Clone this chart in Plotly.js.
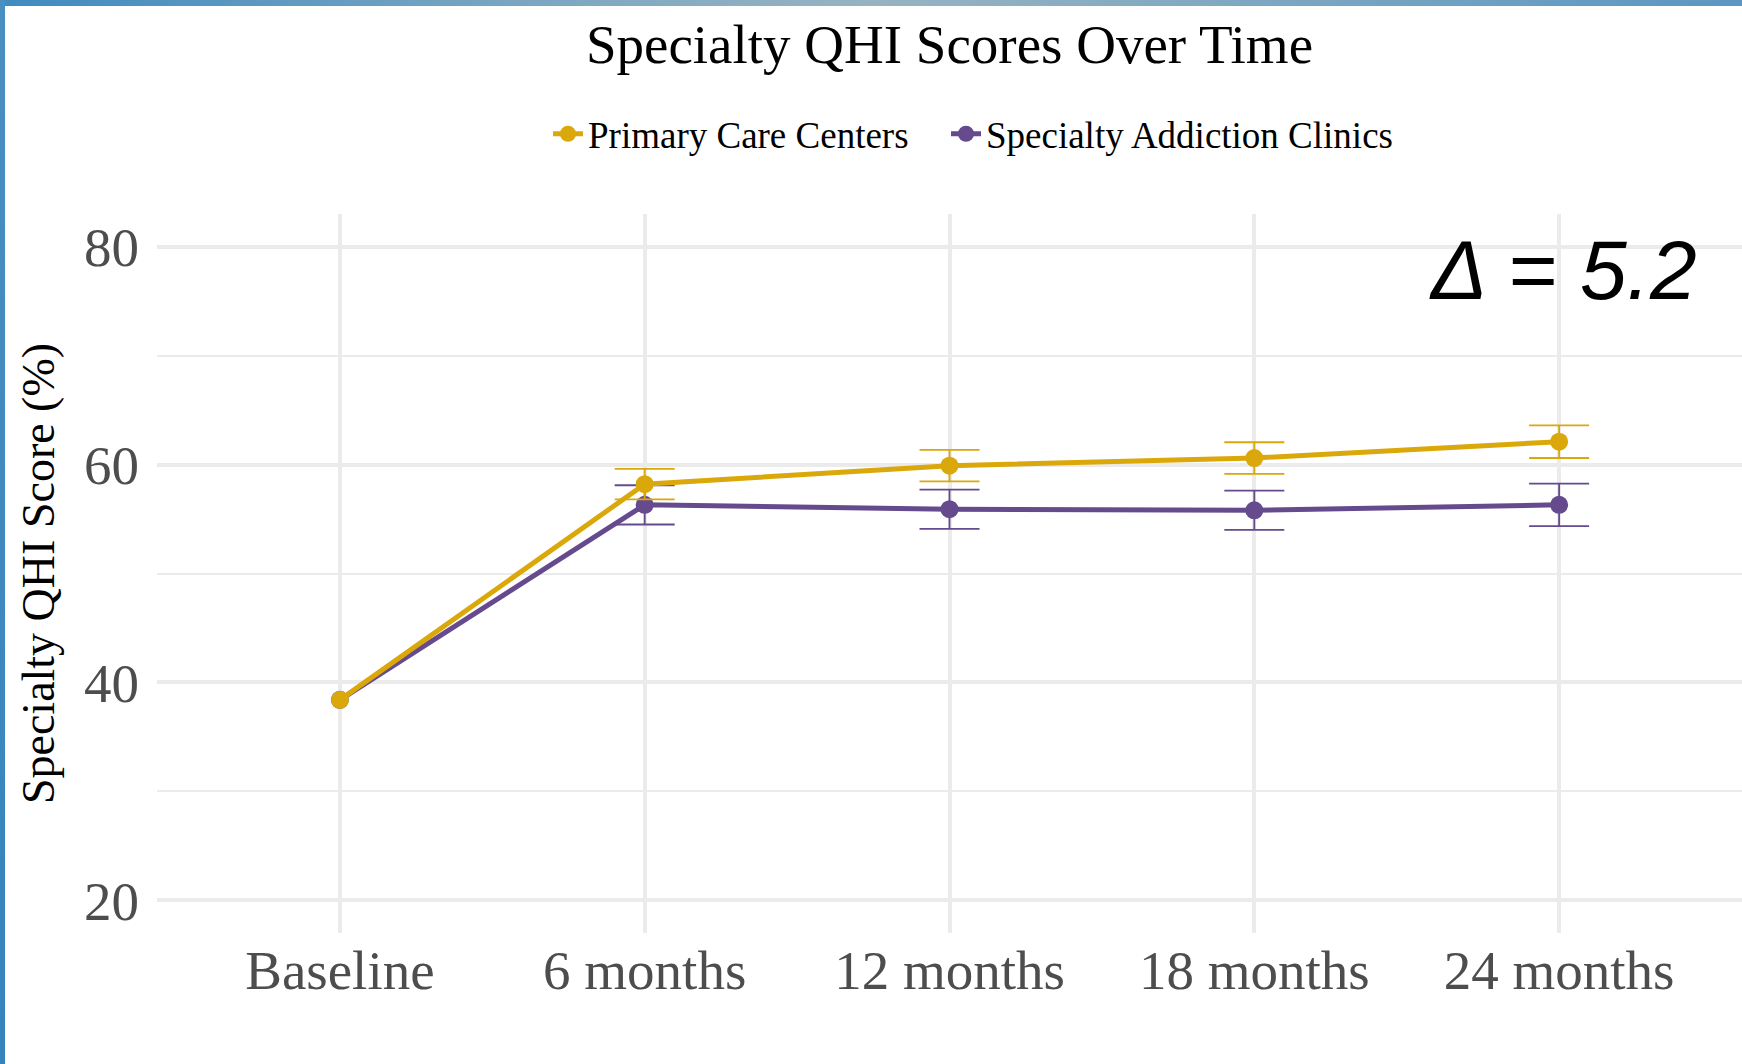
<!DOCTYPE html>
<html>
<head>
<meta charset="utf-8">
<script src="https://cdn.plot.ly/plotly-3.0.1.min.js"></script>
<style>
  html, body { margin: 0; padding: 0; background: #ffffff; }
  #wrap { position: relative; width: 1742px; height: 1064px; overflow: hidden; }
  #chart { position: absolute; left: 0; top: 0; width: 1742px; height: 1064px; }
  .edge-top { position: absolute; left: 0; top: 0; width: 1742px; height: 6px;
    background: linear-gradient(to right, #3f8bc0 0%, #7aa6c2 30%, #97b3c1 50%, #7aa6c2 75%, #5a97c2 100%);
    z-index: 5; }
  .edge-left { position: absolute; left: 0; top: 0; width: 5px; height: 1064px;
    background: linear-gradient(to bottom, #4a8fc0 0%, #3f89bf 50%, #3584bd 100%);
    z-index: 5; }
</style>
</head>
<body>
<div id="wrap">
  <div id="chart"></div>
  <div class="edge-top"></div>
  <div class="edge-left"></div>
</div>
<script>
// Time points of the study
const timepoints = ['Baseline', '6 months', '12 months', '18 months', '24 months'];

// Mean specialty QHI score (%) by setting, with standard errors (none at baseline)
const primaryCare = [38.4, 58.2, 59.9, 60.6, 62.1];
const primaryCareSE = [null, 1.4, 1.45, 1.45, 1.5];
const addictionClinics = [38.4, 56.3, 55.9, 55.8, 56.3];
const addictionClinicsSE = [null, 1.8, 1.8, 1.8, 1.95];

const yTicks = [20, 40, 60, 80];
const deltaLabel = '\u0394 = 5.2';

const GOLD = '#dba80b';
const PURPLE = '#654a8e';
const SERIF = '"Liberation Serif", "Times New Roman", serif';

// Missing errors become NaN so no bar or cap is drawn for them
const toErr = arr => arr.map(v => (v === null ? NaN : v));

function seriesTrace(name, values, se, color, extra) {
  return Object.assign({
    type: 'scatter',
    mode: 'lines+markers',
    name: name,
    x: timepoints,
    y: values,
    line: { color: color, width: 5 },
    marker: { color: color, size: 18 },
    error_y: {
      type: 'data', array: toErr(se), visible: true,
      color: color, thickness: 1.8, width: 30
    },
    hoverinfo: 'x+y+name'
  }, extra || {});
}

const traces = [
  seriesTrace('Specialty Addiction Clinics', addictionClinics, addictionClinicsSE, PURPLE),
  seriesTrace('Primary Care Centers', primaryCare, primaryCareSE, GOLD, { legendwidth: 353 })
];

const layout = {
  width: 1742,
  height: 1064,
  paper_bgcolor: '#ffffff',
  plot_bgcolor: '#ffffff',
  margin: { l: 157, r: 0, t: 214, b: 131, pad: 0 },
  font: { family: SERIF, color: '#000000' },
  title: {
    text: 'Specialty QHI Scores Over Time',
    font: { family: SERIF, size: 55, color: '#000000' },
    x: 0.5, xref: 'paper', xanchor: 'center',
    y: 1 - 44 / 1064, yref: 'container', yanchor: 'middle'
  },
  showlegend: true,
  legend: {
    orientation: 'h',
    traceorder: 'reversed',
    x: (548 - 157) / 1585, xanchor: 'left',
    y: 1.111, yanchor: 'middle',
    font: { family: SERIF, size: 37, color: '#000000' },
    bgcolor: 'rgba(0,0,0,0)'
  },
  xaxis: {
    type: 'category',
    categoryorder: 'array',
    categoryarray: timepoints,
    range: [-0.6, 4.6],
    showgrid: true,
    gridcolor: '#ebebeb',
    gridwidth: 3.5,
    zeroline: false,
    showline: false,
    ticks: '',
    tickfont: { family: SERIF, size: 55, color: '#4d4d4d' },
    ticklabelstandoff: 0,
    fixedrange: true
  },
  yaxis: {
    range: [17, 83],
    tickvals: yTicks,
    ticktext: yTicks.map(String),
    showgrid: true,
    gridcolor: '#ebebeb',
    gridwidth: 3.5,
    minor: { dtick: 10, tick0: 0, showgrid: true, gridcolor: '#ebebeb', gridwidth: 2 },
    zeroline: false,
    showline: false,
    ticks: '',
    tickfont: { family: SERIF, size: 55, color: '#4d4d4d' },
    ticklabelstandoff: 17,
    title: {
      text: 'Specialty QHI Score (%)',
      font: { family: SERIF, size: 46, color: '#000000' },
      standoff: 14
    },
    fixedrange: true
  },
  annotations: [{
    text: '<i>' + deltaLabel + '</i>',
    xref: 'paper', yref: 'paper',
    x: (1699 - 157) / 1585, y: (933 - 270) / 719,
    xanchor: 'right', yanchor: 'middle',
    showarrow: false,
    font: { family: '"Liberation Sans", Arial, sans-serif', size: 84, color: '#000000' }
  }]
};

Plotly.newPlot('chart', traces, layout, { displayModeBar: false, responsive: false });
</script>
</body>
</html>
